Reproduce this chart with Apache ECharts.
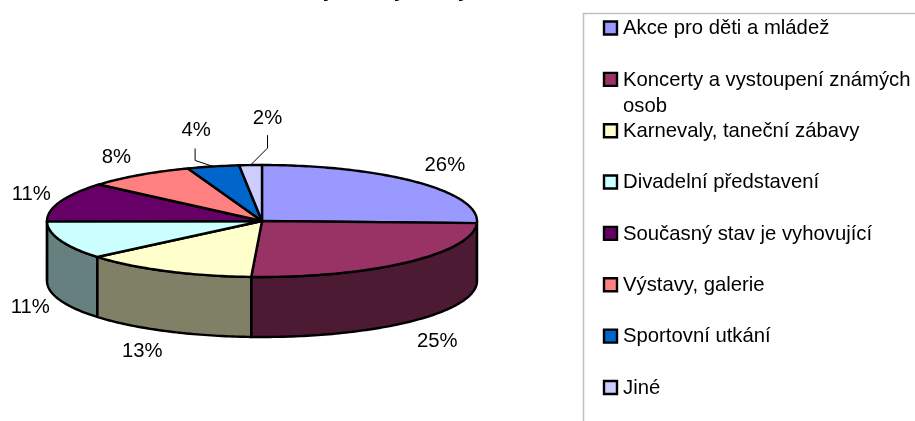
<!DOCTYPE html>
<html>
<head>
<meta charset="utf-8">
<style>
  html, body { margin: 0; padding: 0; background: #fff; overflow: hidden; }
  #chart { width: 915px; height: 421px; }
</style>
</head>
<body>
<div id="chart"></div>
<script src="https://cdn.jsdelivr.net/npm/echarts@6/dist/echarts.min.js"></script>
<script>
// values, labels are the printed percentages
const categories = [
  "Akce pro děti a mládež",
  "Koncerty a vystoupení známých\nosob",
  "Karnevaly, taneční zábavy",
  "Divadelní představení",
  "Současný stav je vyhovující",
  "Výstavy, galerie",
  "Sportovní utkání",
  "Jiné",
];
const values = [25.6, 25.2, 13.1, 11, 11.4, 8.1, 3.9, 1.7];
const percentLabels = ["26%", "25%", "13%", "11%", "11%", "8%", "4%", "2%"];
const colors = ["#9999FF", "#993366", "#FFFFCC", "#CCFFFF", "#660066", "#FF8080", "#0066CC", "#CCCCFF"];
const sideColors = ["#4D4D80", "#4D1A33", "#808066", "#668080", "#330033", "#804040", "#003366", "#666680"];

// label offset from the rim point in the middle of each slice
const labelOffsets = [[28, -17], [30, 79], [-24, 80], [-30, 67], [-29, -7], [-23, -18], [-17, -36], [17, -47]];
// leader lines only on the two small slices: rim -> elbow -> under the label
const leaderOffsets = { 6: [-18, -6, -18, -18], 7: [17, -17, 17, -30] };

const pie = { cx: 262, cy: 221, rx: 215, ry: 56, depth: 60 };
const FONT = '"Liberation Sans", Arial, sans-serif';
const total = values.reduce((a, b) => a + b, 0);

function sliceAngles(i) {
  let before = 0;
  for (let k = 0; k < i; k++) before += values[k];
  return [(before / total) * 360, ((before + values[i]) / total) * 360];
}

function rim(deg, drop) {
  const a = (deg * Math.PI) / 180;
  return [pie.cx + pie.rx * Math.sin(a), pie.cy - pie.ry * Math.cos(a) + (drop || 0)];
}

function arc(from, to, drop) {
  const pts = [];
  const steps = Math.max(2, Math.ceil(Math.abs(to - from)));
  for (let s = 0; s <= steps; s++) pts.push(rim(from + ((to - from) * s) / steps, drop));
  return pts;
}

function renderSide(params, api) {
  const i = params.dataIndex;
  const [a0, a1] = sliceAngles(i);
  // only the front half of the wall can be seen
  const from = Math.max(a0, 90);
  const to = Math.min(a1, 270);
  if (to <= from) return { type: "group", children: [] };
  return {
    type: "polygon",
    shape: { points: arc(from, to, 0).concat(arc(to, from, pie.depth)) },
    style: { fill: sideColors[i], stroke: "#000", lineWidth: 2.4, lineJoin: "round" },
  };
}

function renderTop(params, api) {
  const i = params.dataIndex;
  const [a0, a1] = sliceAngles(i);
  return {
    type: "polygon",
    shape: { points: [[pie.cx, pie.cy]].concat(arc(a0, a1, 0)) },
    style: { fill: colors[i], stroke: "#000", lineWidth: 2.4, lineJoin: "round" },
  };
}

function renderLabel(params, api) {
  const i = params.dataIndex;
  const [a0, a1] = sliceAngles(i);
  const p = rim((a0 + a1) / 2, 0);
  const off = labelOffsets[i];
  const children = [{
    type: "text",
    style: {
      text: percentLabels[i], x: p[0] + off[0], y: p[1] + off[1],
      align: "center", verticalAlign: "middle", font: "20.3px " + FONT, fill: "#000",
    },
  }];
  const lead = leaderOffsets[i];
  if (lead) {
    children.push({
      type: "polyline",
      shape: { points: [p, [p[0] + lead[0], p[1] + lead[1]], [p[0] + lead[2], p[1] + lead[3]]] },
      style: { fill: "none", stroke: "#000", lineWidth: 1 },
    });
  }
  return { type: "group", children };
}

const legendGraphics = [{
  type: "polyline",
  shape: { points: [[915, 13.5], [583.5, 13.5], [583.5, 421]] },
  style: { fill: "none", stroke: "#c0c0c0", lineWidth: 1.5 },
}];
categories.forEach((name, i) => {
  const y = 28 + i * 51.35;
  legendGraphics.push({
    type: "rect",
    shape: { x: 604, y: y - 6.5, width: 13, height: 13 },
    style: { fill: colors[i], stroke: "#000", lineWidth: 2.4 },
  });
  legendGraphics.push({
    type: "text",
    style: { text: name, x: 623, y: y - 12.5, font: "20.3px " + FONT, lineHeight: 26.5, fill: "#000" },
  });
});
// only the tails of the title letters are inside the picture
legendGraphics.push({
  type: "text",
  style: { text: "y,", x: 323, y: -19, font: "bold 20px " + FONT, fill: "#000" },
});
legendGraphics.push({
  type: "text",
  style: { text: "y", x: 394, y: -19, font: "bold 20px " + FONT, fill: "#000" },
});
legendGraphics.push({
  type: "text",
  style: { text: "y", x: 458, y: -19, font: "bold 20px " + FONT, fill: "#000" },
});

const chart = echarts.init(document.getElementById("chart"), null, { renderer: "canvas" });
const rows = values.map((v, i) => ({ name: categories[i], value: v }));
chart.setOption({
  animation: false,
  backgroundColor: "#fff",
  graphic: { elements: legendGraphics },
  series: [
    { type: "custom", coordinateSystem: "none", renderItem: renderSide, data: rows, z: 1 },
    { type: "custom", coordinateSystem: "none", renderItem: renderTop, data: rows, z: 2 },
    { type: "custom", coordinateSystem: "none", renderItem: renderLabel, data: rows, z: 3 },
  ],
});
</script>
</body>
</html>
